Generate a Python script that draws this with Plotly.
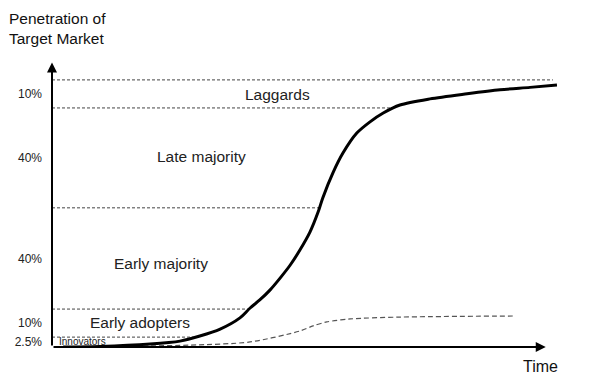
import numpy as np
import plotly.graph_objects as go

# ---- data ----
segments = ["Innovators", "Early adopters", "Early majority", "Late majority", "Laggards"]
segment_shares = ["2.5%", "10%", "40%", "40%", "10%"]
# cumulative boundary levels as drawn on the chart's vertical scale
boundaries = [0, 3.7, 14.2, 52.1, 89.5, 100]

# cumulative penetration S-curve
time_s = [2.2, 9.4, 19.3, 25.2, 29.1, 33.1, 37.0, 39.0, 40.9, 42.9, 44.9, 46.9, 48.8, 50.8,
          52.4, 53.3, 55.3, 57.3, 60.0, 62.6, 65.2, 68.5, 74.4, 81.7, 88.2, 94.1, 99.4]
penetration = [0, 0.2, 1.1, 2.2, 4.1, 6.7, 10.9, 14.6, 17.6, 21.3, 25.8, 30.7, 36.3, 43.1,
               50.6, 55.8, 65.2, 72.7, 80.1, 84.3, 87.6, 90.6, 92.9, 94.8, 96.3, 97.2, 98.1]

# adoption (dashed) curve
time_a = [2.2, 19.3, 27.2, 39.0, 48.8, 51.4, 54.1, 58.7, 68.5, 90.7]
adoption = [0, 0.4, 0.7, 1.9, 6.0, 7.9, 9.4, 10.5, 11.2, 11.6]

top_line_end = 98.6

FONT = "Liberation Sans, Arial, Helvetica, sans-serif"

fig = go.Figure()

fig.add_trace(go.Scatter(x=time_a, y=adoption, mode="lines",
                         line=dict(color="#555555", width=1.2, dash="5px,3px",
                                   shape="spline", smoothing=0.8),
                         hoverinfo="skip", showlegend=False))
fig.add_trace(go.Scatter(x=time_s, y=penetration, mode="lines",
                         line=dict(color="black", width=3, shape="spline", smoothing=0.8),
                         hoverinfo="skip", showlegend=False))

# boundary dashed lines, ending where they meet the S-curve
for lvl in boundaries[1:]:
    if lvl >= max(penetration):
        x_end = top_line_end
    else:
        x_end = float(np.interp(lvl, penetration, time_s))
    fig.add_shape(type="line", x0=0, x1=x_end, y0=lvl, y1=lvl,
                  line=dict(color="#444444", width=1, dash="3px,2px"), layer="below")

# axes with arrows
fig.add_annotation(x=0, y=106.5, ax=0, ay=0, xref="x", yref="y", axref="x", ayref="y",
                   showarrow=True, arrowhead=2, arrowsize=1, arrowwidth=2, arrowcolor="black", text="")
fig.add_annotation(x=97.2, y=0, ax=0, ay=0, xref="x", yref="y", axref="x", ayref="y",
                   showarrow=True, arrowhead=2, arrowsize=1, arrowwidth=2, arrowcolor="black", text="")

# segment labels
label_pos = {
    "Laggards": (44.3, 94.4),
    "Late majority": (29.4, 71.2),
    "Early majority": (21.5, 31.1),
    "Early adopters": (17.3, 9.0),
}
for name in segments:
    if name == "Innovators":
        fig.add_annotation(x=1.0, y=1.9, text=name, showarrow=False, xanchor="left",
                           font=dict(family=FONT, size=10, color="#222222"))
    else:
        x, y = label_pos[name]
        fig.add_annotation(x=x, y=y, text=name, showarrow=False,
                           font=dict(family=FONT, size=15.5, color="#222222"))

fig.add_annotation(xref="paper", yref="paper", x=0.961, y=-0.07, xanchor="center",
                   yanchor="middle", text="Time", showarrow=False,
                   font=dict(family=FONT, size=16, color="#111111"))
fig.add_annotation(xref="paper", yref="paper", x=-0.088, y=1.188, xanchor="left", yanchor="top",
                   align="left", text="Penetration of<br>Target Market", showarrow=False,
                   font=dict(family=FONT, size=15.5, color="#111111"))

mids = [(boundaries[i] + boundaries[i + 1]) / 2 for i in range(len(segments))]

# page body has an 8px default margin; margins compensate so the plot sits as in the reference
fig.update_layout(
    width=605, height=389,
    margin=dict(l=44, r=53, t=54, b=50),
    paper_bgcolor="white", plot_bgcolor="white",
    showlegend=False,
    xaxis=dict(range=[0, 100], showgrid=False, zeroline=False, showline=False,
               showticklabels=False, ticks="", automargin=False),
    yaxis=dict(range=[0, 106.7], showgrid=False, zeroline=False, showline=False,
               tickvals=mids, ticktext=segment_shares, ticks="", ticklabelstandoff=9,
               automargin=False,
               tickfont=dict(family=FONT, size=12, color="#222222")),
)

fig.write_html("out.html")
